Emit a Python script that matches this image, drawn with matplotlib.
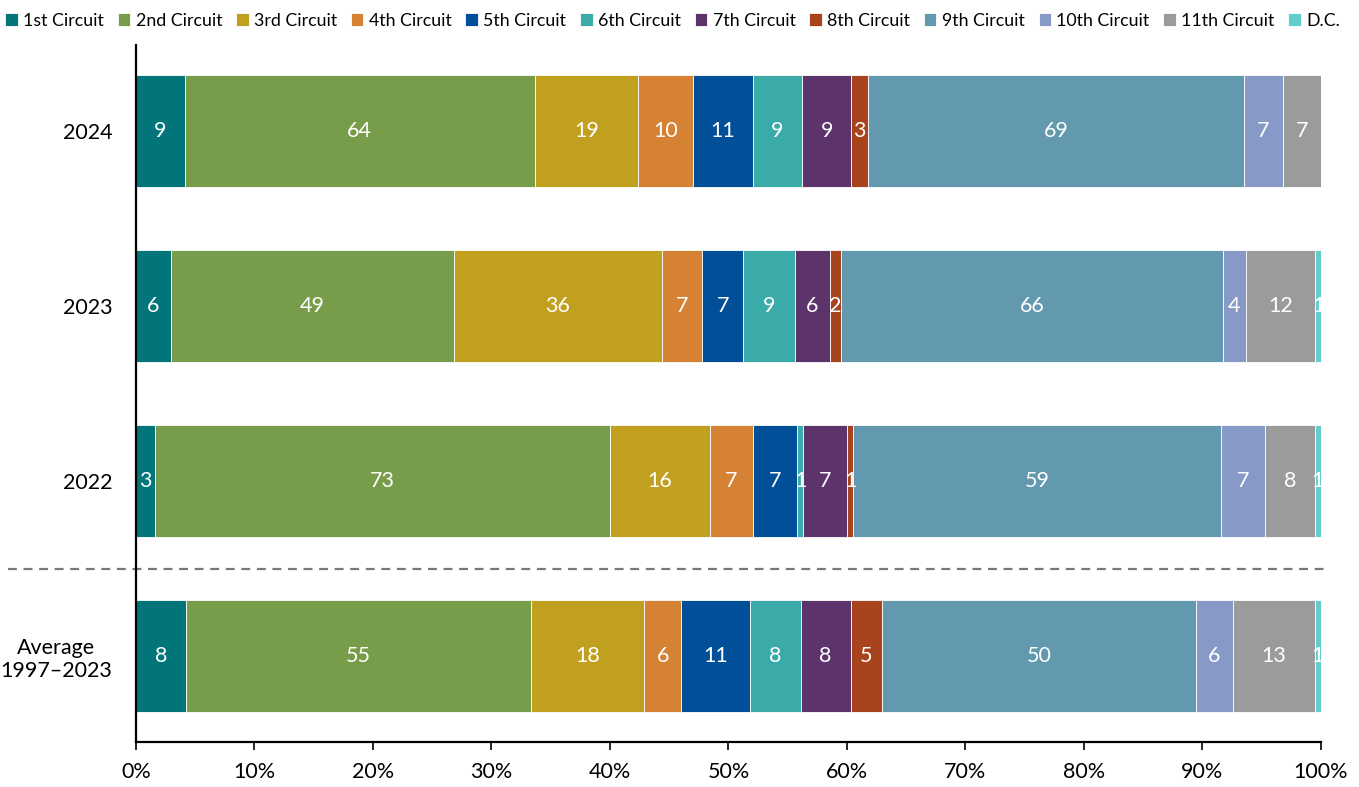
import numpy as np
import matplotlib.pyplot as plt
from matplotlib.lines import Line2D
import matplotlib.transforms as mtransforms

plt.rcParams['font.family'] = ['Lato', 'DejaVu Sans']

# data
rows = ['Average\n1997\u20132023', '2022', '2023', '2024']
circuits = ['1st Circuit', '2nd Circuit', '3rd Circuit', '4th Circuit', '5th Circuit',
            '6th Circuit', '7th Circuit', '8th Circuit', '9th Circuit', '10th Circuit',
            '11th Circuit', 'D.C.']
avg_vals = [8, 55, 18, 6, 11, 8, 8, 5, 50, 6, 13, 1]
y2022 = [3, 73, 16, 7, 7, 1, 7, 1, 59, 7, 8, 1]
y2023 = [6, 49, 36, 7, 7, 9, 6, 2, 66, 4, 12, 1]
y2024 = [9, 64, 19, 10, 11, 9, 9, 3, 69, 7, 7, 0]
colors = ['#02757A', '#789D4A', '#C1A01F', '#D68235', '#004F98', '#3AABA9',
          '#5C346B', '#A8441D', '#6399AE', '#8699C7', '#9B9B9B', '#63CDCB']

counts = np.array([avg_vals, y2022, y2023, y2024], dtype=float)
shares = counts / counts.sum(axis=1, keepdims=True)

fig = plt.figure(figsize=(13.59, 7.87), dpi=100)
ax = fig.add_axes([0.1, 0.057, 0.872, 0.886])

ypos = np.arange(len(rows))
left = np.zeros(len(rows))
for j, name in enumerate(circuits):
    ax.barh(ypos, shares[:, j], left=left, height=0.64, color=colors[j],
            edgecolor='white', linewidth=0.6, label=name)
    for i in range(len(rows)):
        if counts[i, j] > 0:
            ax.text(left[i] + shares[i, j] / 2, ypos[i], '%d' % counts[i, j],
                    ha='center', va='center', color='white', fontsize=15.5)
    left += shares[:, j]

ax.set_xlim(0, 1)
ax.set_ylim(-0.49, 3.49)
ax.set_xticks(np.arange(0, 1.01, 0.1))
ax.set_xticklabels(['%d%%' % v for v in range(0, 101, 10)])
ax.set_yticks(ypos)
ax.set_yticklabels(rows, ha='right', multialignment='center')
ax.tick_params(axis='y', length=0, pad=17, labelsize=15.5)
ax.tick_params(axis='x', direction='out', length=6, width=1.2, labelsize=15.5, pad=8)
for s in ['top', 'right']:
    ax.spines[s].set_visible(False)
for s in ['left', 'bottom']:
    ax.spines[s].set_linewidth(1.6)

# dashed separator above the average row
trans = mtransforms.blended_transform_factory(fig.transFigure, ax.transData)
ax.add_line(Line2D([8 / 1359, 1326 / 1359], [0.5, 0.5], transform=trans,
                   color='#777777', linestyle=(0, (4, 3)), linewidth=1.6, clip_on=False))

ax.legend(loc='upper center', bbox_to_anchor=(0.495, 0.993), bbox_transform=fig.transFigure,
          ncol=12, frameon=False, fontsize=12.8, handlelength=0.7, handleheight=0.7,
          handletextpad=0.3, columnspacing=0.78, borderaxespad=0)

fig.savefig('out.png', dpi=100)
